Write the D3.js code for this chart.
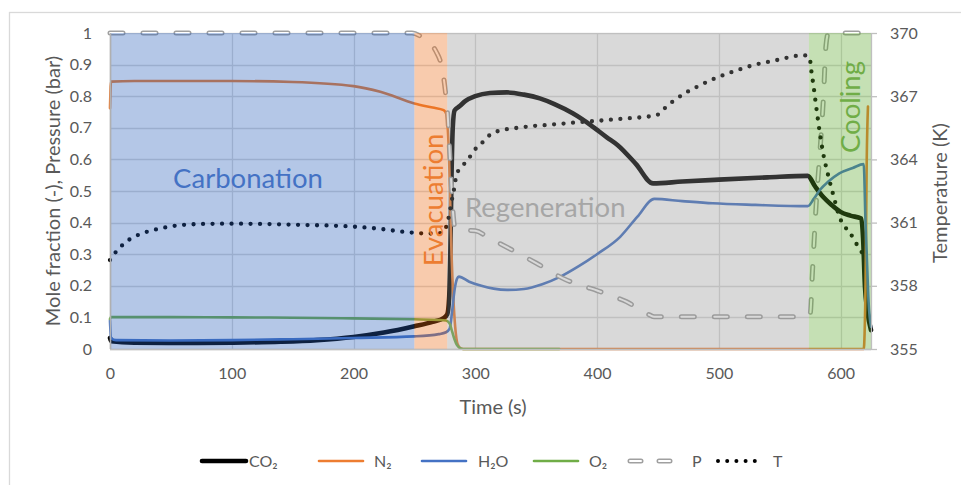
<!DOCTYPE html>
<html>
<head>
<meta charset="utf-8">
<script src="https://cdn.jsdelivr.net/npm/d3@7"></script>
<style>
body { margin: 0; background: #fff; }
svg { display: block; font-family: Lato, "Noto Sans", sans-serif; }
</style>
</head>
<body>
<svg width="961" height="485"></svg>
<script>
// phases of the cycle (s)
var phaseNames = ["Carbonation", "Evacuation", "Regeneration", "Cooling"];
var phaseStart = [0, 250, 277, 574];
var phaseEnd = [250, 277, 574, 625];

// [time (s), value]
var co2 = [[0,0.035],[1,0.025],[20,0.02],[60,0.019],[100,0.02],[140,0.023],[170,0.028],[200,0.038],[225,0.052],[250,0.072],[265,0.086],[274,0.098],[277,0.11],[278.5,0.16],[279.5,0.3],[280.5,0.55],[281.5,0.7],[283,0.755],[287,0.768],[292,0.785],[300,0.8],[312,0.81],[326,0.812],[340,0.805],[353,0.793],[365,0.775],[380,0.746],[395,0.708],[408,0.67],[417,0.645],[432,0.585],[446,0.524],[470,0.53],[500,0.536],[540,0.543],[573,0.548],[579,0.515],[586,0.48],[593,0.455],[600,0.434],[608,0.422],[617,0.413],[618.5,0.35],[620,0.2],[622,0.12],[625,0.06]];
var n2 = [[0,0.762],[0.8,0.846],[20,0.848],[100,0.848],[150,0.845],[200,0.832],[222,0.814],[250,0.777],[265,0.764],[274,0.756],[276.5,0.74],[278.5,0.6],[280.5,0.3],[282,0.16],[283.5,0.07],[285.5,0.015],[288,0.002],[290,0],[617,0],[619,0],[620.5,0.2],[621.5,0.6],[622.5,0.767]];
var h2o = [[0,0.09],[0.8,0.035],[5,0.028],[50,0.027],[100,0.028],[150,0.031],[200,0.035],[250,0.04],[270,0.047],[276,0.053],[279,0.065],[281,0.12],[283,0.187],[285,0.222],[286.5,0.229],[295,0.213],[305,0.2],[315,0.191],[326,0.187],[340,0.19],[355,0.205],[370,0.229],[385,0.262],[400,0.3],[419,0.355],[433,0.418],[447,0.475],[470,0.468],[495,0.461],[530,0.456],[573,0.452],[578,0.475],[583,0.503],[590,0.53],[599,0.556],[610,0.573],[619,0.585],[620.5,0.4],[621.5,0.3],[623,0.15],[625,0.07]];
var o2 = [[0,0.095],[0.8,0.101],[50,0.101],[100,0.1],[150,0.099],[200,0.097],[250,0.094],[270,0.092],[276,0.09],[279,0.08],[281,0.055],[283,0.03],[285,0.012],[287,0.004],[290,0],[369,0]];
var pres = [[0,1],[248,1],[255,0.99],[262,0.97],[268,0.94],[272,0.9],[275,0.83],[277.5,0.73],[279,0.62],[280.5,0.51],[282,0.42],[283.5,0.38],[290,0.376],[300,0.374],[312,0.35],[326,0.322],[340,0.293],[350,0.272],[374,0.22],[388,0.2],[400,0.185],[412,0.168],[424,0.15],[435,0.125],[443,0.108],[447,0.102],[573,0.102],[575,0.11],[577,0.25],[580,0.46],[583,0.62],[586,0.8],[588,0.96],[590,1],[620,1]];
var temp = [[0,359.22],[4,359.55],[9.6,359.9],[16,360.2],[23,360.41],[30,360.56],[38,360.68],[48,360.8],[60,360.89],[80,360.94],[101,360.95],[130,360.93],[156,360.89],[180,360.86],[202,360.8],[222,360.7],[240,360.57],[257,360.49],[268,360.48],[273,360.52],[275,360.65],[277.6,361.1],[279,361.5],[280.5,362],[282,362.4],[284.6,363.26],[288.7,363.65],[294,363.97],[298,364.36],[303.8,364.68],[312,365.16],[321.6,365.39],[331,365.47],[345,365.57],[358,365.63],[380,365.74],[402,365.84],[425,365.95],[440,366.02],[449,366.1],[455,366.4],[462,366.74],[473,367.17],[484,367.5],[495,367.8],[506,368.05],[517,368.27],[530,368.5],[545,368.68],[558,368.85],[569,368.95],[574.5,368.85],[576,368.2],[578,367.4],[580,366.5],[583,365.24],[586,364.2],[590,363.2],[595,362.1],[599,361.28],[603,360.85],[608,360.49],[612,360.1],[616,359.7],[620.7,359.4]];

var xTicks = [0, 100, 200, 300, 400, 500, 600];
var yTicks = [0, 0.1, 0.2, 0.3, 0.4, 0.5, 0.6, 0.7, 0.8, 0.9, 1];
var tTicks = [355, 358, 361, 364, 367, 370];
var legendNames = ["CO\u2082", "N\u2082", "H\u2082O", "O\u2082", "P", "T"];

var svg = d3.select("svg");
var plotL = 110, plotR = 871, plotT = 33, plotB = 349;

var x = d3.scaleLinear().domain([0, 625]).range([plotL, plotR]);
var y = d3.scaleLinear().domain([0, 1]).range([plotB, plotT]);
var yT = d3.scaleLinear().domain([355, 370]).range([plotB, plotT]);

// chart frame
svg.append("rect").attr("x", 9.5).attr("y", 12.5).attr("width", 980).attr("height", 500)
    .attr("fill", "#fff").attr("stroke", "#d9d9d9").attr("stroke-width", 1.3);

// gridlines
svg.append("g").selectAll("line").data(yTicks).enter().append("line")
    .attr("x1", plotL).attr("x2", plotR)
    .attr("y1", function(d) { return Math.round(y(d)) + 0.5; })
    .attr("y2", function(d) { return Math.round(y(d)) + 0.5; })
    .attr("stroke", "#d9d9d9").attr("stroke-width", 1.3);
svg.append("g").selectAll("line").data(xTicks).enter().append("line")
    .attr("y1", plotT).attr("y2", plotB)
    .attr("x1", function(d) { return Math.round(x(d)) + 0.5; })
    .attr("x2", function(d) { return Math.round(x(d)) + 0.5; })
    .attr("stroke", "#d9d9d9").attr("stroke-width", 1.3);

var line = d3.line()
    .x(function(d) { return x(d[0]); })
    .y(function(d) { return y(d[1]); })
    .curve(d3.curveMonotoneX);
var lineT = d3.line()
    .x(function(d) { return x(d[0]); })
    .y(function(d) { return yT(d[1]); })
    .curve(d3.curveMonotoneX);

var plot = svg.append("g");
function addPath(data, gen, color, w) {
    return plot.append("path").attr("d", gen(data)).attr("fill", "none")
        .attr("stroke", color).attr("stroke-width", w)
        .attr("stroke-linejoin", "round").attr("stroke-linecap", "round");
}
addPath(co2, line, "#000", 4.6);
addPath(n2, line, "#ed7d31", 2.6);
addPath(h2o, line, "#4472c4", 2.6);
addPath(o2, line, "#70ad47", 2.6);
addPath(pres, line, "#a0a0a0", 5).attr("stroke-dasharray", "13 20");
addPath(pres, line, "#ffffff", 2).attr("stroke-dasharray", "13 20");
addPath(temp, lineT, "#000", 4.3).attr("stroke-dasharray", "0 9.5");

// phase shading, semi-transparent, on top of the curves
var phaseFill = ["#295fba", "#eb6a15", "#929292", "#59a629"];
svg.append("g").selectAll("rect").data(phaseNames).enter().append("rect")
    .attr("x", function(d, i) { return x(phaseStart[i]); })
    .attr("width", function(d, i) { return x(phaseEnd[i]) - x(phaseStart[i]); })
    .attr("y", plotT).attr("height", plotB - plotT)
    .attr("fill", function(d, i) { return phaseFill[i]; })
    .attr("opacity", 0.35);

// axes lines
svg.append("line").attr("x1", plotL).attr("x2", plotR).attr("y1", plotB + 0.5).attr("y2", plotB + 0.5)
    .attr("stroke", "#bfbfbf").attr("stroke-width", 1.3);
svg.append("line").attr("x1", plotL + 0.5).attr("x2", plotL + 0.5).attr("y1", plotT).attr("y2", plotB)
    .attr("stroke", "#b0b0b0").attr("stroke-width", 1.6);

// phase labels
var phaseColor = ["#4472c4", "#ed7d31", "#a6a6a6", "#70ad47"];
svg.append("text").text(phaseNames[0]).attr("x", 248).attr("y", 188)
    .attr("text-anchor", "middle").attr("font-size", 27.5).attr("fill", phaseColor[0]);
svg.append("text").text(phaseNames[1]).attr("transform", "translate(443,200) rotate(-90)")
    .attr("text-anchor", "middle").attr("font-size", 27.5).attr("fill", phaseColor[1]);
svg.append("text").text(phaseNames[2]).attr("x", 465).attr("y", 217)
    .attr("font-size", 27.5).attr("fill", phaseColor[2]);
svg.append("text").text(phaseNames[3]).attr("transform", "translate(860,107) rotate(-90)")
    .attr("text-anchor", "middle").attr("font-size", 27.5).attr("fill", phaseColor[3]);

// axes
function styleAxis(g) {
    g.select(".domain").remove();
    g.selectAll("text").attr("fill", "#595959").attr("font-size", 16).attr("font-family", "Lato, 'Noto Sans', sans-serif");
}
svg.append("g").attr("transform", "translate(0," + plotB + ")")
    .call(d3.axisBottom(x).tickValues(xTicks).tickSize(0).tickPadding(19))
    .call(styleAxis);
svg.append("g").attr("transform", "translate(" + (plotL - 18) + ",0)")
    .call(d3.axisLeft(y).tickValues(yTicks).tickSize(0).tickPadding(0).tickFormat(d3.format("~g")))
    .call(styleAxis);
var gr = svg.append("g").attr("transform", "translate(" + plotR + ",0)")
    .call(d3.axisRight(yT).tickValues(tTicks).tickSize(6).tickPadding(13))
    .call(styleAxis);
gr.selectAll(".tick line").attr("stroke", "#bfbfbf").attr("stroke-width", 1.3);
svg.append("line").attr("x1", plotR + 0.5).attr("x2", plotR + 0.5).attr("y1", plotT).attr("y2", plotB)
    .attr("stroke", "#bfbfbf").attr("stroke-width", 1.3);

// axis titles
svg.append("text").text("Mole fraction (-), Pressure (bar)")
    .attr("transform", "translate(60,191) rotate(-90)").attr("text-anchor", "middle")
    .attr("font-size", 20).attr("fill", "#595959");
svg.append("text").text("Temperature (K)")
    .attr("transform", "translate(947,193) rotate(-90)").attr("text-anchor", "middle")
    .attr("font-size", 20).attr("fill", "#595959");
svg.append("text").text("Time (s)").attr("x", 493).attr("y", 414)
    .attr("text-anchor", "middle").attr("font-size", 20).attr("fill", "#595959");

// legend
var legLine = [200, 317, 420, 532, 628, 716];
var legText = [249, 374, 478, 589, 692, 773];
var legY = 461;
var leg = svg.append("g");
function legPath(i, color, w) {
    return leg.append("line").attr("x1", legLine[i] + 2).attr("x2", legLine[i] + 46)
        .attr("y1", legY).attr("y2", legY).attr("stroke", color).attr("stroke-width", w)
        .attr("stroke-linecap", "round");
}
legPath(0, "#000", 4.6);
legPath(1, "#ed7d31", 2.6);
legPath(2, "#4472c4", 2.6);
legPath(3, "#70ad47", 2.6);
legPath(4, "#a0a0a0", 5).attr("stroke-dasharray", "11 18");
legPath(4, "#ffffff", 2).attr("stroke-dasharray", "11 18");
legPath(5, "#000", 4).attr("stroke-dasharray", "0 9.2");
leg.selectAll("text").data(legendNames).enter().append("text")
    .attr("x", function(d, i) { return legText[i]; }).attr("y", legY + 6)
    .attr("font-size", 16).attr("fill", "#595959")
    .text(function(d) { return d; });
</script>
</body>
</html>
